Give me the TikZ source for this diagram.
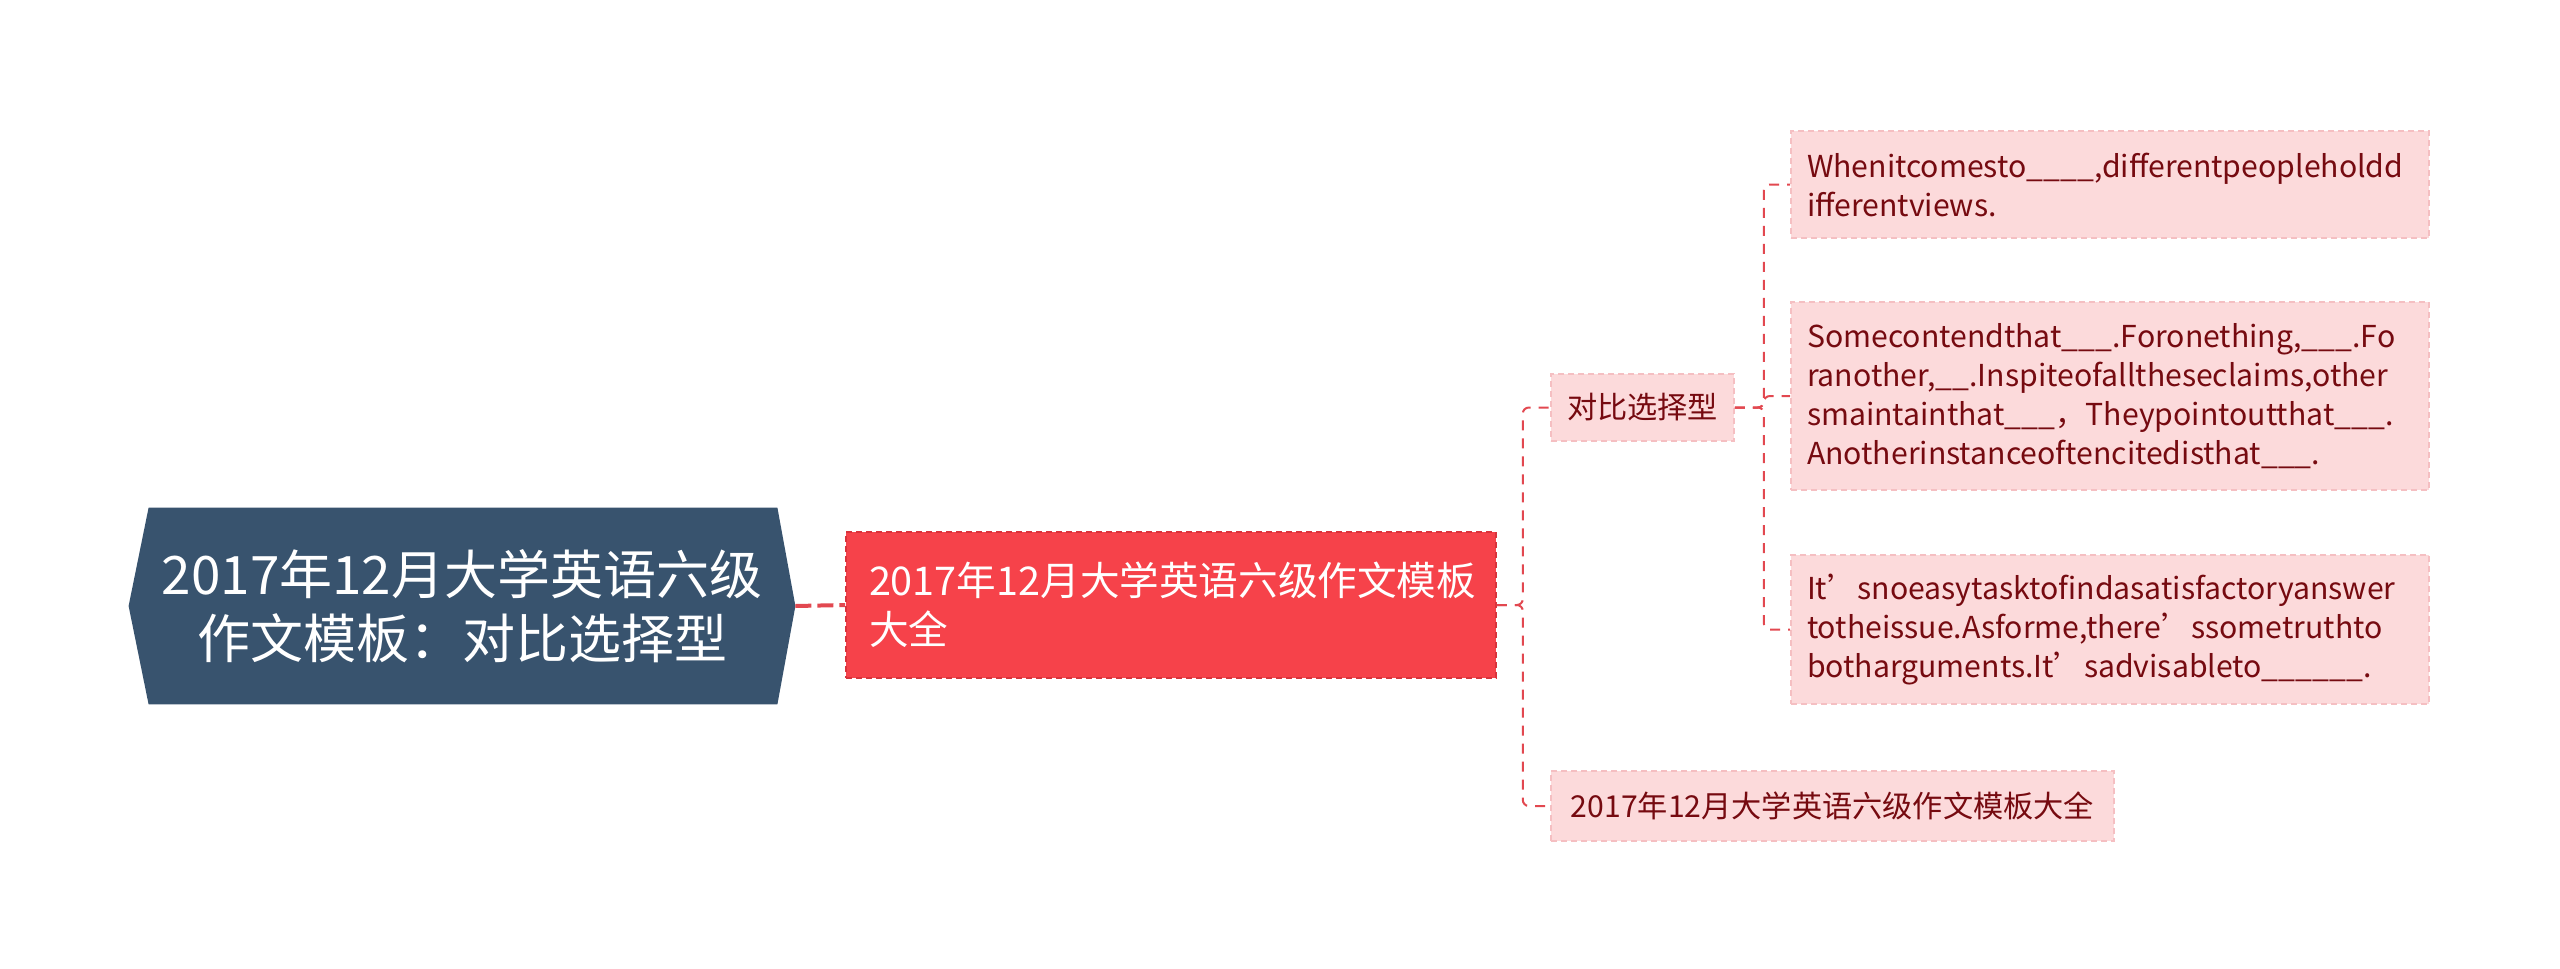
\documentclass[tikz,border=0pt]{standalone}
\usepackage{fontspec}
\setmainfont{Noto Sans CJK SC}
\usetikzlibrary{backgrounds}
\definecolor{rootfill}{HTML}{38536E}
\definecolor{mainfill}{HTML}{F6424A}
\definecolor{mainborder}{HTML}{D8343C}
\definecolor{leaffill}{HTML}{FCDADB}
\definecolor{leafborder}{HTML}{F5BFC2}
\definecolor{leaftext}{HTML}{760A10}
\definecolor{connred}{HTML}{E24850}
\tikzset{
  rootnode/.style={minimum width=333pt, minimum height=98pt, inner sep=0pt, text=white,
    font=\fontsize{26.5}{32}\selectfont, align=center},
  mainnode/.style={fill=mainfill, draw=mainborder, dash pattern=on 3pt off 2pt, line width=0.8pt,
    minimum width=325pt, minimum height=73pt, text width=302pt, inner xsep=11.5pt, inner ysep=0pt,
    align=left, text=white, font=\fontsize{19.8}{24.5}\selectfont},
  leafbase/.style={fill=leaffill, draw=leafborder, dash pattern=on 3pt off 2pt, line width=0.8pt,
    text=leaftext, font=\fontsize{15.1}{19.5}\selectfont, inner ysep=0pt},
  leafnode/.style={leafbase, align=left, inner xsep=8pt, text width=303pt, minimum width=319pt},
  rootconn/.style={draw=connred, line width=2pt, dash pattern=on 8pt off 3pt},
  conn/.style={draw=connred, line width=1pt, dash pattern=on 5pt off 4pt, rounded corners=3pt},
}
\begin{document}
\begin{tikzpicture}[x=0.5pt,y=-0.5pt]
\useasboundingbox (0,0) rectangle (2560,969);
% root
\node[rootnode] (root) at (462,606) {2017年12月大学英语六级\\作文模板：对比选择型};
\begin{pgfonlayer}{background}
\fill[rootfill] (root.west) -- ([xshift=10pt]root.north west) -- ([xshift=-9pt]root.north east)
  -- (root.east) -- ([xshift=-9pt]root.south east) -- ([xshift=10pt]root.south west) -- cycle;
\end{pgfonlayer}
% main
\node[mainnode] (main) at (1171,605) {2017年12月大学英语六级作文模板\\大全};
% level 2
\node[leafbase, minimum width=91.5pt, minimum height=33.5pt, inner xsep=0pt] (dui) at (1642.5,407.5) {对比选择型};
\node[leafbase, minimum width=281.5pt, minimum height=35pt, inner xsep=0pt] (bottom) at (1832.5,806) {2017年12月大学英语六级作文模板大全};
% leaves
\node[leafnode, minimum height=53.5pt] (leafa) at (2110,184.5) {Whenitcomesto\_\_\_\_,differentpeopleholdd\\ifferentviews.};
\node[leafnode, minimum height=94pt] (leafb) at (2110,396) {Somecontendthat\_\_\_.Foronething,\_\_\_.Fo\\ranother,\_\_.Inspiteofalltheseclaims,other\\smaintainthat\_\_\_，Theypointoutthat\_\_\_.\\Anotherinstanceoftencitedisthat\_\_\_.};
\node[leafnode, minimum height=74.5pt] (leafc) at (2110,629.5) {It’snoeasytasktofindasatisfactoryanswer\\totheissue.Asforme,there’ssometruthto\\botharguments.It’sadvisableto\_\_\_\_\_\_.};
% connectors
\draw[rootconn] (root.east) -- (main.west);
\draw[conn] (main.east) -- ++(13pt,0) |- (dui.west);
\draw[conn] (main.east) -- ++(13pt,0) |- (bottom.west);
\draw[conn] (dui.east) -- ++(14.5pt,0) |- (leafa.west);
\draw[conn] (dui.east) -- ++(14.5pt,0) |- (leafb.west);
\draw[conn] (dui.east) -- ++(14.5pt,0) |- (leafc.west);
\end{tikzpicture}
\end{document}
